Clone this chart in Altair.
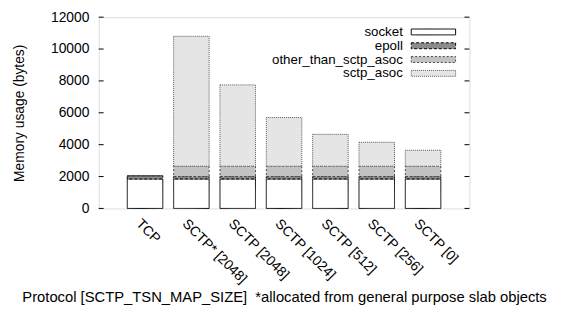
import altair as alt
import pandas as pd

categories = ["TCP", "SCTP* [2048]", "SCTP [2048]", "SCTP [1024]", "SCTP [512]", "SCTP [256]", "SCTP [0]"]
series = ["socket", "epoll", "other_than_sctp_asoc", "sctp_asoc"]
socket = [1850, 1850, 1850, 1850, 1850, 1850, 1850]
epoll = [200, 150, 150, 150, 150, 150, 150]
other_than_sctp_asoc = [0, 650, 650, 650, 650, 650, 650]
sctp_asoc = [0, 8150, 5100, 3050, 2000, 1500, 1000]
y_ticks = [0, 2000, 4000, 6000, 8000, 10000, 12000]

fills = ["#ffffff", "#8c8c8c", "#c2c2c2", "#e5e5e5"]
strokes = ["#000000", "#000000", "#444444", "#555555"]
dashes = [[1, 0], [3, 2], [2, 2], [1, 1]]

W, H = 376, 194
FONT = "Liberation Sans"

rows = []
for i, c in enumerate(categories):
    for k, (s, vals) in enumerate(zip(series, [socket, epoll, other_than_sctp_asoc, sctp_asoc])):
        rows.append({"proto": c, "series": s, "k": k, "value": vals[i]})
df = pd.DataFrame(rows)

fill_scale = alt.Scale(domain=series, range=fills)
stroke_scale = alt.Scale(domain=series, range=strokes)
dash_scale = alt.Scale(domain=series, range=dashes)
y_scale = alt.Scale(domain=[0, 12000], nice=False)
y_axis = alt.Axis(title="Memory usage (bytes)", values=y_ticks, ticks=False,
                  domain=False, grid=False, labelPadding=10, format="d",
                  labelOverlap=False, labelFlush=False,
                  labelFont=FONT, labelFontSize=14, labelColor="#000",
                  titleFont=FONT, titleFontSize=14, titleFontWeight="normal",
                  titleColor="#000", titleX=-80, titleY=97, titleAngle=270,
                  titleAlign="center", titleBaseline="middle")

bars = alt.Chart(df).mark_bar(strokeWidth=1).encode(
    x=alt.X("proto:N", sort=categories,
            scale=alt.Scale(paddingInner=0.234, paddingOuter=0.617),
            axis=alt.Axis(title="Protocol [SCTP_TSN_MAP_SIZE]\u00a0\u00a0*allocated from general purpose slab objects",
                          labelAngle=45, labelAlign="left", labelBaseline="top",
                          labelOffset=-2, labelPadding=8, ticks=False, domain=False,
                          labelFont=FONT, labelFontSize=14, labelColor="#000",
                          titleFont=FONT, titleFontSize=15, titleFontWeight="normal",
                          titleColor="#000", titleY=89, titleBaseline="middle")),
    y=alt.Y("value:Q", stack="zero", scale=y_scale, axis=y_axis),
    fill=alt.Fill("series:N", scale=fill_scale, legend=None),
    stroke=alt.Stroke("series:N", scale=stroke_scale, legend=None),
    strokeDash=alt.StrokeDash("series:N", scale=dash_scale, legend=None),
    order=alt.Order("k:Q"),
)

tick_df = pd.DataFrame({"v": y_ticks})
tick_left = alt.Chart(tick_df).mark_rule(color="#000", strokeWidth=1).encode(
    x=alt.value(0), x2=alt.value(5), y=alt.Y("v:Q", scale=y_scale, axis=y_axis))
tick_right = alt.Chart(tick_df).mark_rule(color="#000", strokeWidth=1).encode(
    x=alt.value(W - 5), x2=alt.value(W), y=alt.Y("v:Q", scale=y_scale, axis=y_axis))

main = alt.layer(bars, tick_left, tick_right)

leg_df = pd.DataFrame({"series": series})
leg_y = alt.Y("series:N", scale=alt.Scale(type="point", domain=series, range=[15, 57], padding=0), axis=None)
leg_text = alt.Chart(leg_df).mark_text(align="right", baseline="middle", font=FONT, fontSize=13.5, color="#000").encode(
    x=alt.value(308.5), y=leg_y, text="series:N")
leg_sym = alt.Chart(leg_df).mark_point(shape="M-1,-0.133H1V0.133H-1Z", size=2025, filled=True,
                                       strokeWidth=1, opacity=1).encode(
    x=alt.value(339.5), y=leg_y,
    fill=alt.Fill("series:N", scale=fill_scale, legend=None),
    stroke=alt.Stroke("series:N", scale=stroke_scale, legend=None),
    strokeDash=alt.StrokeDash("series:N", scale=dash_scale, legend=None),
)
legend = alt.layer(leg_text, leg_sym)

chart = alt.layer(main, legend).resolve_scale(y="independent").properties(
    width=W, height=H,
    autosize=alt.AutoSizeParams(type="none"),
    padding={"left": 92, "top": 7, "right": 100, "bottom": 120},
).configure_view(stroke="#000", strokeWidth=1.2).configure(font=FONT)

chart.save("out.html", embed_options={"renderer": "svg", "actions": False})
